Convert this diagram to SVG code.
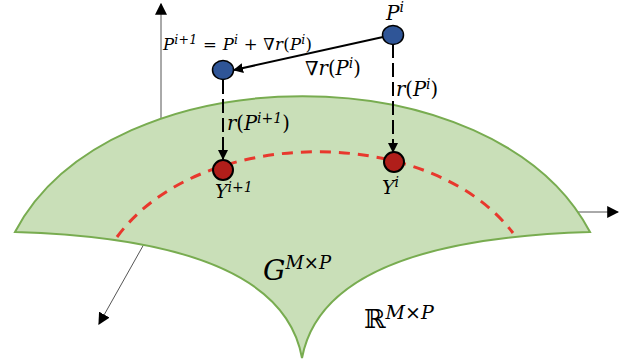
<svg xmlns="http://www.w3.org/2000/svg" width="623" height="362" viewBox="0 0 623 362">
<defs>
<style>
.m{font-family:"DejaVu Serif","Liberation Serif",serif;font-style:italic;fill:#000}
.u{font-style:normal}
.axis{stroke:#555;stroke-width:1;fill:none}
.conn{stroke:#000;stroke-width:2;fill:none}
.dash{stroke:#000;stroke-width:2;fill:none;stroke-dasharray:14 5}
.blue{fill:#2f5597;stroke:#000;stroke-width:1.5}
.red{fill:#b01e1a;stroke:#000;stroke-width:2}
</style>
<marker id="ah" viewBox="0 0 10 10" refX="9" refY="5" markerWidth="10" markerHeight="10" markerUnits="userSpaceOnUse" orient="auto"><path d="M0,0 L10,5 L0,10 z" fill="#000"/></marker>
<marker id="ahs" viewBox="0 0 10 10" refX="9" refY="5" markerWidth="12" markerHeight="12" markerUnits="userSpaceOnUse" orient="auto"><path d="M0,0 L10,5 L0,10 z" fill="#000"/></marker>
</defs>
<rect width="623" height="362" fill="#fff"/>
<g id="axes">
<line class="axis" x1="161" y1="121" x2="161" y2="4" marker-end="url(#ahs)"/>
<line class="axis" x1="577" y1="212" x2="618" y2="212" marker-end="url(#ahs)"/>
<line class="axis" x1="144" y1="244" x2="99" y2="324" marker-end="url(#ahs)"/>
</g>
<g id="manifold">
<path d="M15,232 C110,51 495,51 590,232 C455,236 320,262 302,358 C285,262 150,236 15,232 Z" fill="#c9dfb8" stroke="#78ac50" stroke-width="2"/>
<path d="M117,237 C200,124 430,124 513,233" fill="none" stroke="#e8382d" stroke-width="3" stroke-dasharray="11 8"/>
</g>
<g id="connectors">
<line class="conn" x1="383" y1="37" x2="234" y2="70" marker-end="url(#ah)"/>
<line class="dash" x1="223" y1="80" x2="223" y2="159" marker-end="url(#ah)"/>
<line class="dash" x1="393" y1="44" x2="393" y2="152" marker-end="url(#ah)"/>
</g>
<g id="node-Pi">
<ellipse class="blue" cx="393" cy="35" rx="10.5" ry="9.5"/>
<text class="m" x="386" y="20" font-size="20">P<tspan font-size="14" dy="-8">i</tspan></text>
</g>
<g id="node-Pi1">
<ellipse class="blue" cx="223" cy="70" rx="10.5" ry="9.5"/>
<text class="m" x="163" y="50" font-size="16.5" textLength="149" lengthAdjust="spacing">P<tspan font-size="12.5" dy="-6">i+1</tspan><tspan dy="6" class="u"> = </tspan>P<tspan font-size="12.5" dy="-6">i</tspan><tspan dy="6" class="u"> + ∇</tspan>r<tspan class="u">(</tspan>P<tspan font-size="12.5" dy="-6">i</tspan><tspan dy="6" class="u">)</tspan></text>
</g>
<g id="label-grad">
<text class="m" x="305" y="75" font-size="19.5">∇r<tspan class="u">(</tspan>P<tspan font-size="14" dy="-7">i</tspan><tspan dy="7" class="u">)</tspan></text>
</g>
<g id="label-rPi">
<text class="m" x="396" y="96" font-size="19.5">r<tspan class="u">(</tspan>P<tspan font-size="14" dy="-7">i</tspan><tspan dy="7" class="u">)</tspan></text>
</g>
<g id="label-rPi1">
<text class="m" x="227" y="130" font-size="19.5">r<tspan class="u">(</tspan>P<tspan font-size="14" dy="-7">i+1</tspan><tspan dy="7" class="u">)</tspan></text>
</g>
<g id="node-Yi1">
<circle class="red" cx="223" cy="170" r="10"/>
<text class="m" x="215" y="198" font-size="19">Y<tspan font-size="14" dy="-6">i+1</tspan></text>
</g>
<g id="node-Yi">
<circle class="red" cx="394" cy="162" r="10"/>
<text class="m" x="382" y="194" font-size="19">Y<tspan font-size="14" dy="-7">i</tspan></text>
</g>
<g id="label-G">
<text class="m" x="263" y="280" font-size="28">G<tspan font-size="18" dy="-11">M×P</tspan></text>
</g>
<g id="label-R">
<text x="364" y="328" font-size="26" font-family="DejaVu Serif, serif">ℝ<tspan class="m" font-size="19" dy="-9">M×P</tspan></text>
</g>
</svg>
